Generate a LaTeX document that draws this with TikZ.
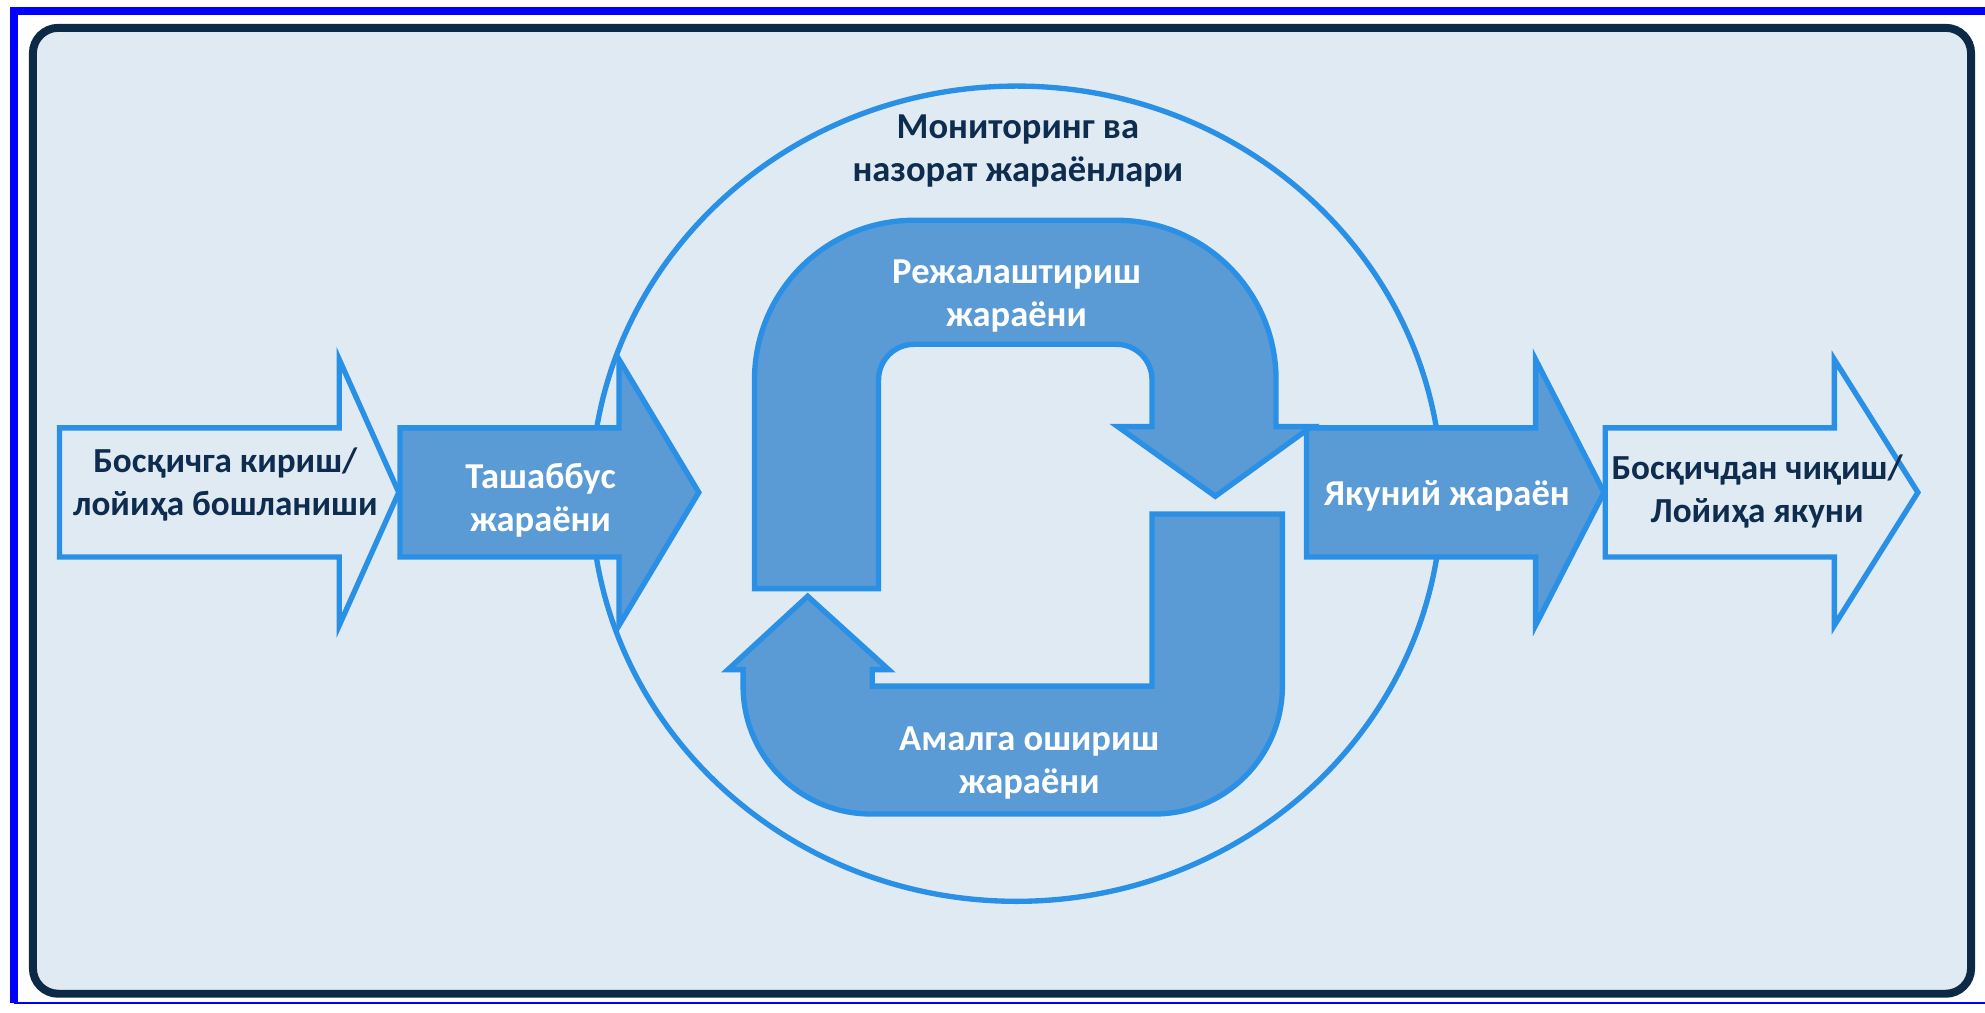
\documentclass[tikz,border=0pt]{standalone}
\usepackage{fontspec}
\setmainfont{Carlito}

\definecolor{panelbg}{RGB}{223,234,243}
\definecolor{panelline}{RGB}{12,41,69}
\definecolor{arrowline}{RGB}{42,144,230}
\definecolor{arrowfill}{RGB}{91,155,213}
\definecolor{darktext}{RGB}{14,44,78}

\begin{document}
\begin{tikzpicture}[x=0.01cm, y=0.01cm,
    arrowbase/.style={draw=arrowline, line width=1.2pt},
    whitelabel/.style={text=white, font=\bfseries\fontsize{8.2}{9.7}\selectfont, align=center},
    navylabel/.style={text=darktext, font=\bfseries\fontsize{7.9}{9.6}\selectfont, align=center}]
  \useasboundingbox (0,0) rectangle (1568,800);

  % Frame and panel
  \draw[blue, line width=0.063cm] (1600,791.2) -- (11,791.2) -- (11,8);
  \draw[blue, line width=0.5pt] (11,8) -- (1600,8);
  \draw[panelline, line width=0.063cm, fill=panelbg, rounded corners=0.2cm] (26,15) rectangle (1557,778);

  % Monitoring circle
  \draw[arrowline, line width=1.2pt] (803,410) ellipse [x radius=336, y radius=322];

  % Straight arrows
  \foreach \l/\h/\t/\f in {47/268/315/panelbg, 316/489/552/arrowfill, 1032/1213/1267/arrowfill, 1268/1449/1515/panelbg}
    \draw[arrowbase, fill=\f] (\l,360) -- (\l,462) -- (\h,462) -- (\h,516) -- (\t,411) -- (\h,306) -- (\h,360) -- cycle;

  % Loop arrows
  \draw[arrowbase, fill=arrowfill] (596,335) -- (596,500) arc[start angle=180, end angle=90, radius=126]
    -- (882,626) arc[start angle=90, end angle=0, radius=126] -- (1008,463) -- (1036,463) -- (960,408)
    -- (883,463) -- (910,463) -- (910,500) arc[start angle=0, end angle=90, radius=28]
    -- (722,528) arc[start angle=90, end angle=180, radius=28] -- (694,335) -- cycle;
  \draw[arrowbase, fill=arrowfill] (910,394) -- (1013,394) -- (1013,258) arc[start angle=0, end angle=-90, radius=101]
    -- (688,157) arc[start angle=270, end angle=180, radius=101] -- (587,271) -- (575,271) -- (638,329)
    -- (702,271) -- (689,271) -- (689,258) -- (910,258) -- cycle;

  % Labels
  \node[navylabel] (start) at (178,417) {Босқичга кириш/\\лойиҳа бошланиши};
  \node[whitelabel] (init) at (427,405) {Ташаббус\\жараёни};
  \node[navylabel, font=\bfseries\fontsize{8.2}{9.7}\selectfont] (monitor) at (804,681) {Мониторинг ва\\назорат жараёнлари};
  \node[whitelabel] (plan) at (803,566) {Режалаштириш\\жараёни};
  \node[whitelabel] (exec) at (813,197) {Амалга ошириш\\жараёни};
  \node[whitelabel] (close) at (1143,408) {Якуний жараён};
  \node[navylabel] (finish) at (1388,412) {Босқичдан чиқиш/\\Лойиҳа якуни};
\end{tikzpicture}
\end{document}
